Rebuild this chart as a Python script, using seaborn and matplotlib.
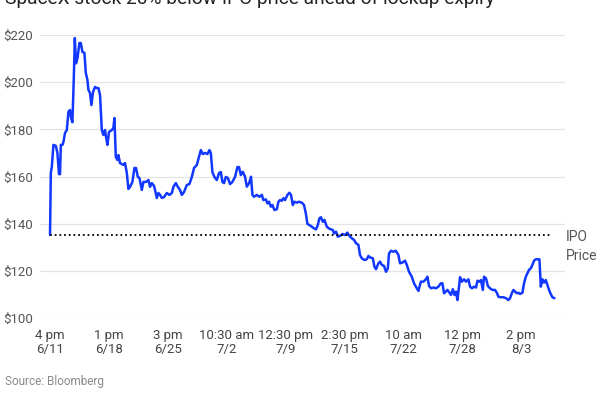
import numpy as np
import pandas as pd
import matplotlib
matplotlib.use("Agg")
import matplotlib.pyplot as plt
import seaborn as sns

# trading-time position (one x tick every 29.45 units) and share price in $
t = [0, 0.4, 0.9, 1.7, 2.9, 3.7, 4.5, 5.0, 5.4, 6.2, 6.7, 7.5, 8.4, 9.2, 10.0, 10.5,
     11.2, 11.9, 12.4, 13.0, 13.7, 14.7, 15.4, 16.2, 17.2, 17.9, 18.7, 19.2, 20.0, 20.7,
     21.5, 22.5, 23.4, 24.2, 25.0, 25.9, 26.7, 27.5, 28.0, 28.7, 29.5, 30.9, 31.7, 32.2,
     32.9, 33.7, 34.2, 35.0, 36.7, 37.5, 38.4, 39.2, 40.0, 41.2, 42.2, 43.0, 43.9, 44.7,
     45.9, 46.7, 48.0, 49.2, 50.0, 50.9, 52.0, 52.5, 53.4, 54.2, 55.0, 55.9, 57.0, 58.4,
     59.7, 60.9, 61.7, 62.9, 63.9, 65.0, 65.9, 67.0, 68.4, 69.7, 70.9, 72.0, 73.4, 74.7,
     75.4, 76.4, 77.5, 78.7, 79.7, 80.4, 81.2, 82.2, 83.4, 84.5, 85.4, 86.2, 87.0, 87.9,
     88.9, 90.0, 91.2, 92.5, 93.7, 94.5, 95.4, 96.4, 97.5, 98.4, 99.5, 100.5, 101.2, 102.0,
     103.4, 104.7, 105.9, 106.7, 107.9, 108.7, 109.5, 110.4, 111.2, 112.2, 113.4, 114.2,
     115.0, 115.9, 116.7, 117.5, 118.7, 119.7, 120.5, 121.4, 122.2, 123.4, 124.5, 125.9,
     127.0, 127.9, 128.7, 129.7, 130.9, 132.0, 133.0, 133.9, 134.7, 135.5, 136.4, 137.2,
     138.4, 139.4, 140.4, 141.4, 142.0, 143.0, 143.9, 145.0, 146.2, 147.5, 148.7, 149.7,
     150.9, 152.0, 153.0, 154.2, 155.0, 155.9, 157.2, 158.4, 159.2, 160.0, 161.4, 162.2,
     163.0, 164.2, 165.0, 165.9, 167.0, 168.0, 168.9, 169.5, 170.5, 171.7, 172.9, 174.2,
     175.0, 176.2, 177.5, 178.4, 179.5, 180.9, 182.0, 183.4, 184.2, 185.4, 186.7, 187.9,
     188.7, 189.5, 190.5, 191.7, 193.0, 194.2, 195.4, 196.2, 197.0, 197.9, 198.7, 199.7,
     200.5, 201.4, 202.2, 203.0, 203.7, 204.5, 205.0, 205.9, 207.0, 208.0, 209.2, 210.0,
     211.0, 212.0, 213.0, 213.7, 214.7, 215.5, 216.4, 217.0, 218.0, 218.9, 220.0, 221.2,
     222.5, 223.4, 224.2, 225.4, 226.7, 228.0, 229.2, 230.0, 230.9, 231.7, 232.5, 233.4,
     234.2, 235.0, 236.2, 237.0, 237.9, 238.7, 239.5, 240.4, 241.2, 242.0, 242.9, 243.9,
     244.7, 245.4, 246.2, 247.0, 247.9, 248.7, 249.5, 250.4, 251.2, 252.2]
price = [135.2, 161.5, 164.0, 173.4, 173.0, 170.0, 161.0, 161.0, 173.4, 173.4, 174.6, 178.5,
         179.7, 187.4, 188.2, 184.8, 183.0, 202.0, 218.7, 208.0, 210.0, 216.6, 216.6, 212.8,
         212.4, 203.9, 201.0, 196.7, 195.4, 190.3, 195.8, 198.0, 197.5, 197.5, 194.6, 179.7,
         177.6, 179.7, 176.8, 173.4, 178.9, 179.7, 180.6, 184.8, 168.3, 167.0, 169.1, 165.7,
         164.9, 165.7, 161.5, 154.7, 155.6, 157.7, 163.6, 163.6, 159.8, 159.4, 154.3, 157.7,
         157.7, 158.5, 155.6, 157.2, 156.0, 154.3, 150.9, 153.0, 152.2, 150.9, 151.3, 153.0,
         152.2, 153.0, 155.6, 157.2, 155.6, 154.3, 152.2, 153.4, 156.4, 156.8, 159.8, 163.6,
         164.9, 169.1, 171.2, 169.5, 170.0, 169.5, 171.2, 170.0, 161.9, 159.8, 158.5, 161.5,
         161.9, 157.7, 157.2, 159.8, 159.4, 156.8, 157.7, 159.8, 164.0, 164.0, 160.6, 162.0,
         159.9, 155.7, 157.1, 159.9, 152.2, 151.4, 152.2, 151.4, 152.2, 150.0, 150.3, 148.6,
         149.3, 147.2, 147.9, 145.8, 146.1, 149.3, 150.0, 149.7, 150.8, 150.0, 152.2, 153.1,
         152.2, 147.9, 149.3, 148.9, 149.3, 148.9, 147.9, 144.4, 139.9, 139.4, 138.7, 138.0,
         137.6, 139.4, 142.3, 142.7, 140.8, 141.6, 138.7, 138.0, 137.6, 137.3, 135.9, 136.6,
         134.5, 134.8, 135.6, 135.2, 136.2, 134.8, 133.8, 133.1, 131.7, 131.0, 126.7, 125.3,
         124.6, 124.9, 126.3, 125.7, 125.3, 121.8, 120.7, 123.2, 123.9, 122.5, 122.1, 119.6,
         121.0, 127.4, 128.5, 128.1, 128.5, 126.7, 123.2, 123.5, 124.3, 122.5, 119.6, 117.5,
         114.7, 112.6, 111.5, 115.4, 115.4, 116.4, 117.5, 113.6, 112.6, 112.9, 112.6, 113.3,
         114.7, 114.7, 110.5, 111.2, 111.9, 110.7, 109.8, 112.2, 109.8, 111.2, 107.6, 113.3,
         117.3, 115.4, 116.4, 115.4, 116.4, 113.3, 112.6, 113.3, 112.9, 115.8, 115.4, 116.1,
         111.9, 117.5, 116.8, 113.6, 112.6, 111.9, 111.9, 110.7, 109.0, 108.8, 108.8, 108.4,
         107.6, 108.4, 110.5, 111.9, 111.2, 110.5, 110.7, 110.2, 110.7, 114.7, 117.5, 119.0,
         120.4, 121.1, 122.5, 124.3, 124.9, 124.9, 124.9, 113.3, 116.4, 115.0, 116.1, 114.0,
         111.9, 110.1, 108.8, 108.4]
ipo_price = 135
tick_labels = ["4 pm\n6/11", "1 pm\n6/18", "3 pm\n6/25", "10:30 am\n7/2", "12:30 pm\n7/9",
               "2:30 pm\n7/15", "10 am\n7/22", "12 pm\n7/28", "2 pm\n8/3"]
y_ticks = [100, 120, 140, 160, 180, 200, 220]

df = pd.DataFrame({"t": t, "price": price})

sns.set_theme(style="white")
plt.rcParams["font.family"] = ["Roboto", "DejaVu Sans"]

fig = plt.figure(figsize=(6, 4), dpi=100)
ax = fig.add_axes([0.0667, 0.205, 0.875, 0.7075])

sns.lineplot(data=df, x="t", y="price", ax=ax, color="#1238ff", linewidth=1.8,
             sort=False, estimator=None, clip_on=False)
# dotted IPO reference runs from the first trade to just past the last one
ax.axhline(ipo_price, xmin=5 / 262.5, xmax=256 / 262.5, color="black",
           linestyle=(0, (1, 1.6)), linewidth=1.3)

ax.set_xlim(-5, 257.5)
ax.set_ylim(100, 220)
ax.set_yticks(y_ticks)
ax.set_yticklabels([f"${v}" for v in y_ticks])
ax.set_xticks(np.arange(len(tick_labels)) * 29.45)
ax.set_xticklabels(tick_labels, linespacing=1.1)
ax.grid(axis="y", color="#e4e4e4", linewidth=0.9)
ax.set_axisbelow(True)
for s in ax.spines.values():
    s.set_visible(False)
ax.tick_params(axis="y", length=0, pad=5, labelsize=9.5, labelcolor="#555555")
ax.tick_params(axis="x", length=5, width=0.8, color="#dddddd", pad=3,
               labelsize=9.5, labelcolor="#444444")
ax.set_xlabel("")
ax.set_ylabel("")

ax.text(1.002, ipo_price + 2.2, "IPO\nPrice", transform=ax.get_yaxis_transform(),
        ha="left", va="top", fontsize=10, color="#555555", linespacing=1.4)

fig.text(0.008, 0.99, "SpaceX stock 20% below IPO price ahead of lockup expiry",
         ha="left", va="baseline", fontsize=13.8, color="#222222")
fig.text(0.008, 0.045, "Source: Bloomberg", ha="left", va="center",
         fontsize=8.5, color="#8a8a8a")

fig.savefig("out.png", dpi=100)
